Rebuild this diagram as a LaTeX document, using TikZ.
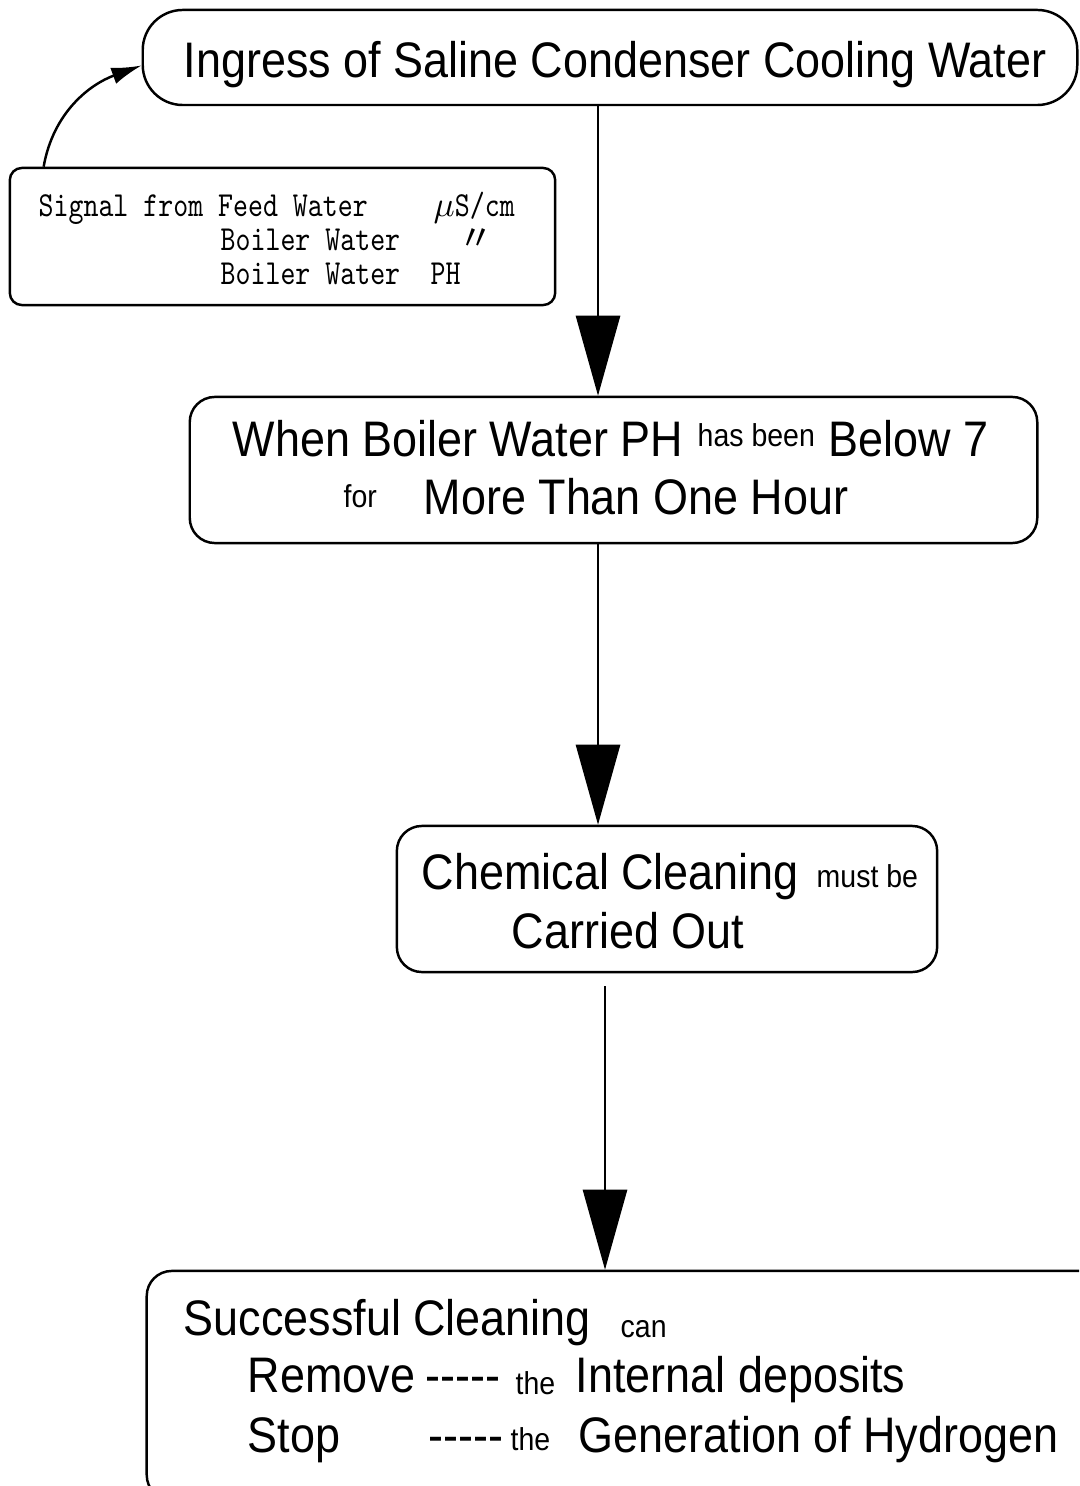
\documentclass[tikz,border=0pt]{standalone}
\usepackage{fontspec}
\setmainfont{Liberation Sans}[FakeStretch=0.9]
\setmonofont{lmmono10-regular.otf}[FakeStretch=0.81]
\newfontfamily\cjkfont{Noto Sans CJK SC}
\usepackage{tikz}
\usetikzlibrary{arrows.meta,positioning,calc}

\newcommand\bigtxt{\fontsize{14.2}{17}\selectfont}
\newcommand\smalltxt{\fontsize{9}{11}\selectfont}
\newcommand\sigtxt{\ttfamily\fontsize{10}{12}\selectfont}

\tikzset{
  box/.style={draw, line width=0.7pt, rounded corners=0.25cm, inner sep=0pt},
  big/.style={font=\bigtxt, inner sep=0pt, anchor=base west},
  small/.style={font=\smalltxt, inner sep=0pt, anchor=base west},
  sig/.style={font=\sigtxt, inner sep=0pt, anchor=base west},
  flow/.style={line width=0.8pt, -{Triangle[length=0.8cm, width=0.44cm]}},
}

\begin{document}
\begin{tikzpicture}[x=0.01cm, y=-0.01cm]
  \useasboundingbox (0,0) rectangle (1079,1486);
  \clip (0,0) rectangle (1079,1486);

  % Boxes
  \node[box, rounded corners=0.4cm, minimum width=9.34cm, minimum height=0.95cm] (ingress) at (610,57.5) {};
  \node[box, rounded corners=0.12cm, minimum width=5.45cm, minimum height=1.37cm] (signal) at (282.5,236.5) {};
  \node[box, minimum width=8.47cm, minimum height=1.46cm] (when) at (613.5,470) {};
  \node[box, minimum width=5.40cm, minimum height=1.46cm] (chem) at (667,899) {};
  \node[box, minimum width=9.63cm, minimum height=2.29cm] (result) at (628.5,1385.5) {};

  % Top box text
  \node[big] (ingtxt) at (183,78) {Ingress of Saline Condenser Cooling Water};

  % Signal text
  \node[sig] (sigA) at (38,217) {Signal from Feed Water};
  \node[sig] (sigB) at (220,251) {Boiler Water};
  \node[sig] (sigC) at (220,285) {Boiler Water};
  \node[sig] (unitA) at (433,217) {$\mu$S/cm};
  \node[sig] (unitB) at (458,251) {\cjkfont 〃};
  \node[sig] (unitC) at (430,285) {PH};

  % Second box text
  \node[big] (whenA) at (232,457) {When Boiler Water PH};
  \node[small] (hasbeen) at (697,447) {has been};
  \node[big] (below) at (828,457) {Below 7};
  \node[small] (for) at (343,508) {for};
  \node[big] (more) at (423,515) {More Than One Hour};

  % Third box text
  \node[big] (chemA) at (421,889) {Chemical Cleaning};
  \node[small] (mustbe) at (816,887) {must be};
  \node[big] (carried) at (511,948) {Carried Out};

  % Last box text
  \node[big] (success) at (183,1335) {Successful Cleaning};
  \node[small] (can) at (620,1337) {can};
  \node[big] (remove) at (247,1392) {Remove};
  \node[big] (dashA) at (425,1392) {-{}-{}-{}-{}-};
  \node[small] (theA) at (515,1394) {the};
  \node[big] (deposits) at (575,1392) {Internal deposits};
  \node[big] (stop) at (247,1452) {Stop};
  \node[big] (dashB) at (428,1452) {-{}-{}-{}-{}-};
  \node[small] (theB) at (510,1450) {the};
  \node[big] (hydrogen) at (578,1452) {Generation of Hydrogen};

  % Connectors
  \coordinate (colA) at (598,0);
  \coordinate (colB) at (605,0);
  \draw[flow] (ingress.south -| colA) -- (when.north -| colA);
  \draw[flow] (when.south -| colA) -- (chem.north -| colA);
  \draw[flow, shorten <=0.13cm] (chem.south -| colB) -- (result.north -| colB);
  \draw[line width=0.7pt, -{Latex[length=0.3cm, width=0.17cm]}] ([xshift=0.35cm]signal.north west) to[out=80, in=200] ([yshift=-0.08cm]ingress.west);
\end{tikzpicture}
\end{document}
